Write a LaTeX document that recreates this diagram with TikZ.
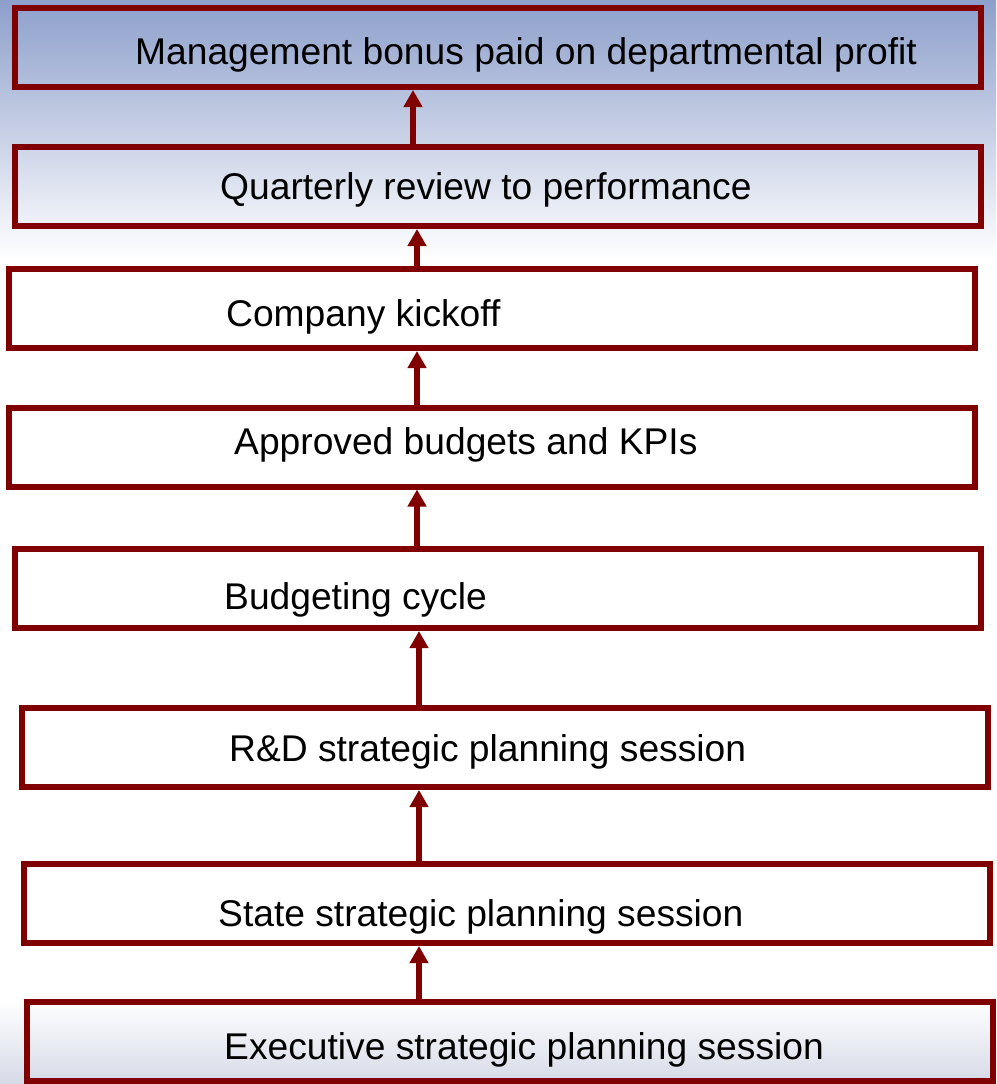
\documentclass[tikz,border=0pt]{standalone}
\usepackage{fontspec}
\setmainfont{Liberation Sans}
\usetikzlibrary{arrows.meta}
\definecolor{boxred}{RGB}{128,0,0}
\definecolor{skytop}{RGB}{141,159,203}
\definecolor{floorgray}{RGB}{214,218,231}
\tikzset{stage/.style={draw=boxred,line width=6pt,inner sep=0pt,minimum width=966pt,minimum height=79pt},
	 caption/.style={anchor=base west,inner sep=0pt,font=\fontsize{37.2}{45}\selectfont},
	 uparrow/.style={draw=boxred,line width=6pt,-{Triangle[width=18pt,length=17pt]}}
	 }

\begin{document}
\begin{tikzpicture}[x=1pt,y=-1pt] % planning cycle, bottom to top
	\useasboundingbox (0,0) rectangle (996,1084);
	\fill[white] (0,0) rectangle (996,1084);
	\shade[top color=skytop,bottom color=white] (0,0) rectangle (996,260);
	\shade[top color=white,bottom color=floorgray] (0,1000) rectangle (996,1084);
	% boxes
	\node[stage] (s1) at (498,47.5) {};
	\node[stage] (s2) at (498,186.5) {};
	\node[stage] (s3) at (491.5,308.5) {};
	\node[stage] (s4) at (492,447) {};
	\node[stage] (s5) at (498,588.5) {};
	\node[stage] (s6) at (504.5,747.5) {};
	\node[stage] (s7) at (507,903.5) {};
	\node[stage] (s8) at (510,1041) {};
	% texts
	\node[caption] (t1) at (135,64) {Management bonus paid on departmental profit};
	\node[caption] (t2) at (220,199) {Quarterly review to performance};
	\node[caption] (t3) at (226,326) {Company kickoff};
	\node[caption] (t4) at (234,454) {Approved budgets and KPIs};
	\node[caption] (t5) at (224,609) {Budgeting cycle};
	\node[caption] (t6) at (229,761) {R\&D strategic planning session};
	\node[caption] (t7) at (218,926) {State strategic planning session};
	\node[caption] (t8) at (224,1059) {Executive strategic planning session};
	% arrows
	\draw[uparrow] (s2.north -| 413,0) -- (s1.south -| 413,0);
	\draw[uparrow] (s3.north -| 417,0) -- (s2.south -| 417,0);
	\draw[uparrow] (s4.north -| 417,0) -- (s3.south -| 417,0);
	\draw[uparrow] (s5.north -| 417,0) -- (s4.south -| 417,0);
	\draw[uparrow] (s6.north -| 419,0) -- (s5.south -| 419,0);
	\draw[uparrow] (s7.north -| 419,0) -- (s6.south -| 419,0);
	\draw[uparrow] (s8.north -| 419,0) -- (s7.south -| 419,0);
\end{tikzpicture}
\end{document}
